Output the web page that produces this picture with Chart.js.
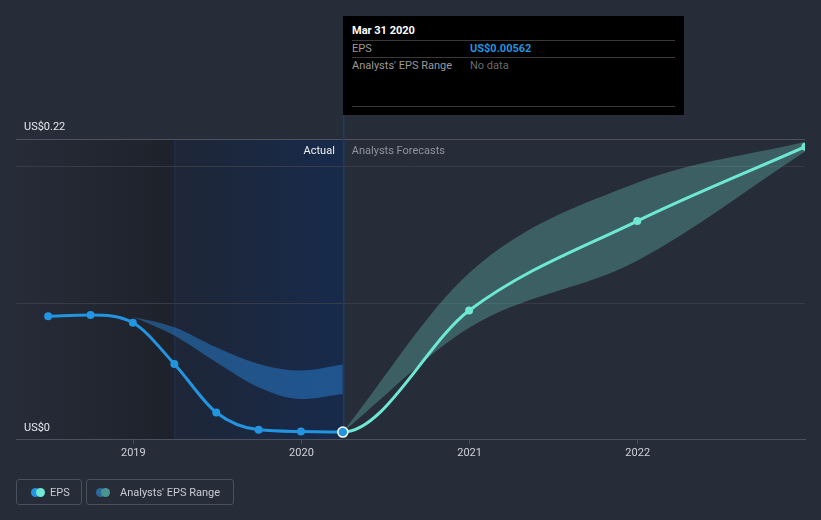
<!DOCTYPE html>
<html><head><meta charset="utf-8">
<script src="https://cdn.jsdelivr.net/npm/chart.js@4.4.1/dist/chart.umd.min.js"></script>
<style>
html,body{margin:0;padding:0;background:#262c38;}
#wrap{position:relative;width:821px;height:520px;font-family:Roboto,"Open Sans",sans-serif;overflow:hidden;}
#c{position:absolute;left:0;top:0;}
#tip{position:absolute;background:#000;width:341px;height:99px;top:16px;left:342px;color:#fff;font-size:11px;}
#tip .t{position:absolute;left:9px;top:8px;font-weight:bold;color:#fff;}
#tip .ln{position:absolute;left:9px;right:9px;height:1px;background:#3a3a3a;}
#tip .lab{position:absolute;left:9px;color:#9a9a9a;}
#tip .val{position:absolute;left:127px;}
.leg{position:absolute;top:479px;height:26px;border:1px solid #4a505c;border-radius:3px;box-sizing:border-box;color:#c8cbd0;font-size:11px;}
.leg span.txt{position:absolute;top:6px;}
.dot{position:absolute;width:9px;height:9px;border-radius:50%;top:8px;}
</style></head>
<body>
<div id="wrap">
<canvas id="c" width="821" height="520"></canvas>
<div id="tip">
  <div class="t">Mar 31 2020</div>
  <div class="ln" style="top:24px"></div>
  <div class="lab" style="top:26px">EPS</div>
  <div class="val" style="top:26px;color:#2394df;font-weight:bold">US$0.00562</div>
  <div class="ln" style="top:41px"></div>
  <div class="lab" style="top:43px">Analysts' EPS Range</div>
  <div class="val" style="top:43px;color:#6b6b6b">No data</div>
  <div class="ln" style="top:90px"></div>
</div>
<div class="leg" style="left:16px;width:66px">
  <div class="dot" style="left:14px;background:#2394df"></div>
  <div class="dot" style="left:19px;background:#6ee7d3"></div>
  <span class="txt" style="left:33px">EPS</span>
</div>
<div class="leg" style="left:86px;width:148px">
  <div class="dot" style="left:9px;background:#2a6a9e"></div>
  <div class="dot" style="left:14px;background:#4b9690"></div>
  <span class="txt" style="left:33px">Analysts' EPS Range</span>
</div>
</div>
<script>
// ---- data ----
const actualDates = ['2018-06-30','2018-09-30','2018-12-31','2019-03-31','2019-06-30','2019-09-30','2019-12-31','2020-03-31'];
const actualEps = [0.0904, 0.0912, 0.0856, 0.0555, 0.0200, 0.0073, 0.0061, 0.00562];
const pastRangeDates = ['2018-12-31','2019-03-31','2019-06-30','2019-09-30','2019-12-31','2020-03-31'];
const pastRangeLow = [0.0900, 0.0763, 0.0567, 0.0384, 0.0298, 0.0335];
const pastRangeHigh = [0.0900, 0.0824, 0.0677, 0.0555, 0.0506, 0.0550];
const forecastDates = ['2020-03-31','2020-12-31','2021-12-31','2022-12-31'];
const forecastEps = [0.00562, 0.0946, 0.1600, 0.2144];
const forecastLow = [0.00562, 0.0820, 0.1310, 0.2110];
const forecastHigh = [0.00562, 0.1220, 0.1880, 0.2180];
const xTicks = [2019, 2020, 2021, 2022];
const yTicks = [0, 0.1, 0.2, 0.22];
const yLabels = {0: 'US$0', 0.22: 'US$0.22'};

function dec(s) {
  const d = new Date(s + 'T00:00:00Z');
  const y = d.getUTCFullYear();
  const a = Date.UTC(y, 0, 1), b = Date.UTC(y + 1, 0, 1);
  return y + (d.getTime() - a) / (b - a);
}
const pts = (ds, vs) => ds.map((d, i) => ({x: dec(d), y: vs[i]}));

const lastActual = dec(actualDates[actualDates.length - 1]);
const shadeStart = dec(actualDates[3]);

const forecastData = [{x: dec(actualDates[6]), y: actualEps[6]}].concat(pts(forecastDates, forecastEps));

const bgPlugin = {
  id: 'bgShade',
  beforeDraw(chart) {
    const {ctx, chartArea: ca, scales: {x}} = chart;
    const xs = x.getPixelForValue(shadeStart);
    const xe = x.getPixelForValue(lastActual);
    ctx.save();
    let g = ctx.createLinearGradient(ca.left, 0, xs, 0);
    g.addColorStop(0, 'rgba(20,22,28,0)');
    g.addColorStop(1, 'rgba(20,22,28,0.45)');
    ctx.fillStyle = g;
    ctx.fillRect(ca.left, ca.top, xs - ca.left, ca.bottom - ca.top);
    g = ctx.createLinearGradient(xs, 0, xe, 0);
    g.addColorStop(0, '#1e2637');
    g.addColorStop(1, '#172a4b');
    ctx.fillStyle = g;
    ctx.fillRect(xs, ca.top, xe - xs, ca.bottom - ca.top);
    ctx.fillStyle = 'rgba(35,110,200,0.18)';
    ctx.fillRect(xs, ca.top, 1, ca.bottom - ca.top);
    ctx.restore();
  },
  afterDatasetsDraw(chart) {
    const {ctx, chartArea: ca, scales: {x}} = chart;
    const xe = x.getPixelForValue(lastActual);
    ctx.save();
    ctx.font = '11px Roboto, sans-serif';
    ctx.textBaseline = 'middle';
    ctx.textAlign = 'right';
    ctx.fillStyle = '#f0f0f0';
    ctx.fillText('Actual', xe - 8, ca.top + 12);
    ctx.textAlign = 'left';
    ctx.fillStyle = '#8f949c';
    ctx.fillText('Analysts Forecasts', xe + 9, ca.top + 12);
    ctx.restore();
  },
  beforeDatasetsDraw(chart) {
    const {ctx, chartArea: ca, scales: {x}} = chart;
    const xe = Math.round(x.getPixelForValue(lastActual));
    ctx.save();
    ctx.fillStyle = '#1d3b63';
    ctx.fillRect(xe, 110, 1.5, ca.bottom - 110);
    ctx.restore();
  },
  afterRender(chart) {
    const x = chart.scales.x;
    document.getElementById('tip').style.left = Math.round(x.getPixelForValue(lastActual)) + 'px';
  }
};

const ds = [
  {label: 'EPS', data: pts(actualDates, actualEps), borderColor: '#2394df', backgroundColor: '#2394df',
   borderWidth: 3, cubicInterpolationMode: 'monotone', fill: false, order: 1,
   pointRadius: actualEps.map((v, i) => i === actualEps.length - 1 ? 5 : 4),
   pointBorderColor: actualEps.map((v, i) => i === actualEps.length - 1 ? '#ffffff' : '#2394df'),
   pointBorderWidth: actualEps.map((v, i) => i === actualEps.length - 1 ? 1.5 : 0),
   pointHoverRadius: 5},
  {label: 'EPS forecast', data: forecastData, borderColor: '#6ee7d3', backgroundColor: '#6ee7d3',
   borderWidth: 3, cubicInterpolationMode: 'monotone', fill: false, order: 2,
   pointRadius: forecastData.map((p, i) => i < 2 ? 0 : 4), pointBorderWidth: 0,
   segment: {borderColor: c => c.p0DataIndex === 0 ? 'rgba(0,0,0,0)' : undefined}},
  {label: 'pastLow', data: pts(pastRangeDates, pastRangeLow), borderWidth: 0, pointRadius: 0,
   cubicInterpolationMode: 'monotone', fill: false, order: 6, borderColor: 'rgba(0,0,0,0)'},
  {label: 'pastHigh', data: pts(pastRangeDates, pastRangeHigh), borderWidth: 0, pointRadius: 0,
   cubicInterpolationMode: 'monotone', fill: '-1', order: 5, borderColor: 'rgba(0,0,0,0)',
   backgroundColor: 'rgba(40,128,210,0.5)'},
  {label: 'fcLow', data: pts(forecastDates, forecastLow), borderWidth: 0, pointRadius: 0,
   cubicInterpolationMode: 'monotone', fill: false, order: 8, borderColor: 'rgba(0,0,0,0)'},
  {label: 'fcHigh', data: pts(forecastDates, forecastHigh), borderWidth: 0, pointRadius: 0,
   cubicInterpolationMode: 'monotone', fill: '-1', order: 7, borderColor: 'rgba(0,0,0,0)',
   backgroundColor: 'rgba(108,214,199,0.3)'}
];

new Chart(document.getElementById('c'), {
  type: 'line',
  data: {datasets: ds},
  plugins: [bgPlugin],
  options: {
    responsive: false,
    animation: false,
    events: [],
    layout: {padding: {left: 0, right: 16, top: 139, bottom: 57}},
    plugins: {legend: {display: false}, tooltip: {enabled: false}},
    scales: {
      x: {
        type: 'linear', min: 2018.302, max: 2022.995,
        afterBuildTicks: s => { s.ticks = xTicks.map(v => ({value: v})); },
        ticks: {color: '#d0d3d8', font: {size: 11, family: 'Roboto'}, padding: 3, callback: v => String(v), maxRotation: 0},
        grid: {drawOnChartArea: false, drawTicks: true, tickLength: 4, color: '#4b515c'},
        border: {color: '#4b515c', width: 1}
      },
      y: {
        min: 0, max: 0.22,
        afterBuildTicks: s => { s.ticks = yTicks.map(v => ({value: v})); },
        ticks: {mirror: true, padding: 8, labelOffset: -12, color: '#e6e8eb', font: {size: 11, family: 'Roboto'},
                callback: v => yLabels[v] !== undefined ? yLabels[v] : ''},
        grid: {drawTicks: false, color: c => (c.tick && c.tick.value === 0.22) ? '#4d525d' : (c.tick && c.tick.value === 0 ? '#4b515c' : '#353b47')},
        border: {display: false}
      }
    }
  }
});
</script>
</body></html>
